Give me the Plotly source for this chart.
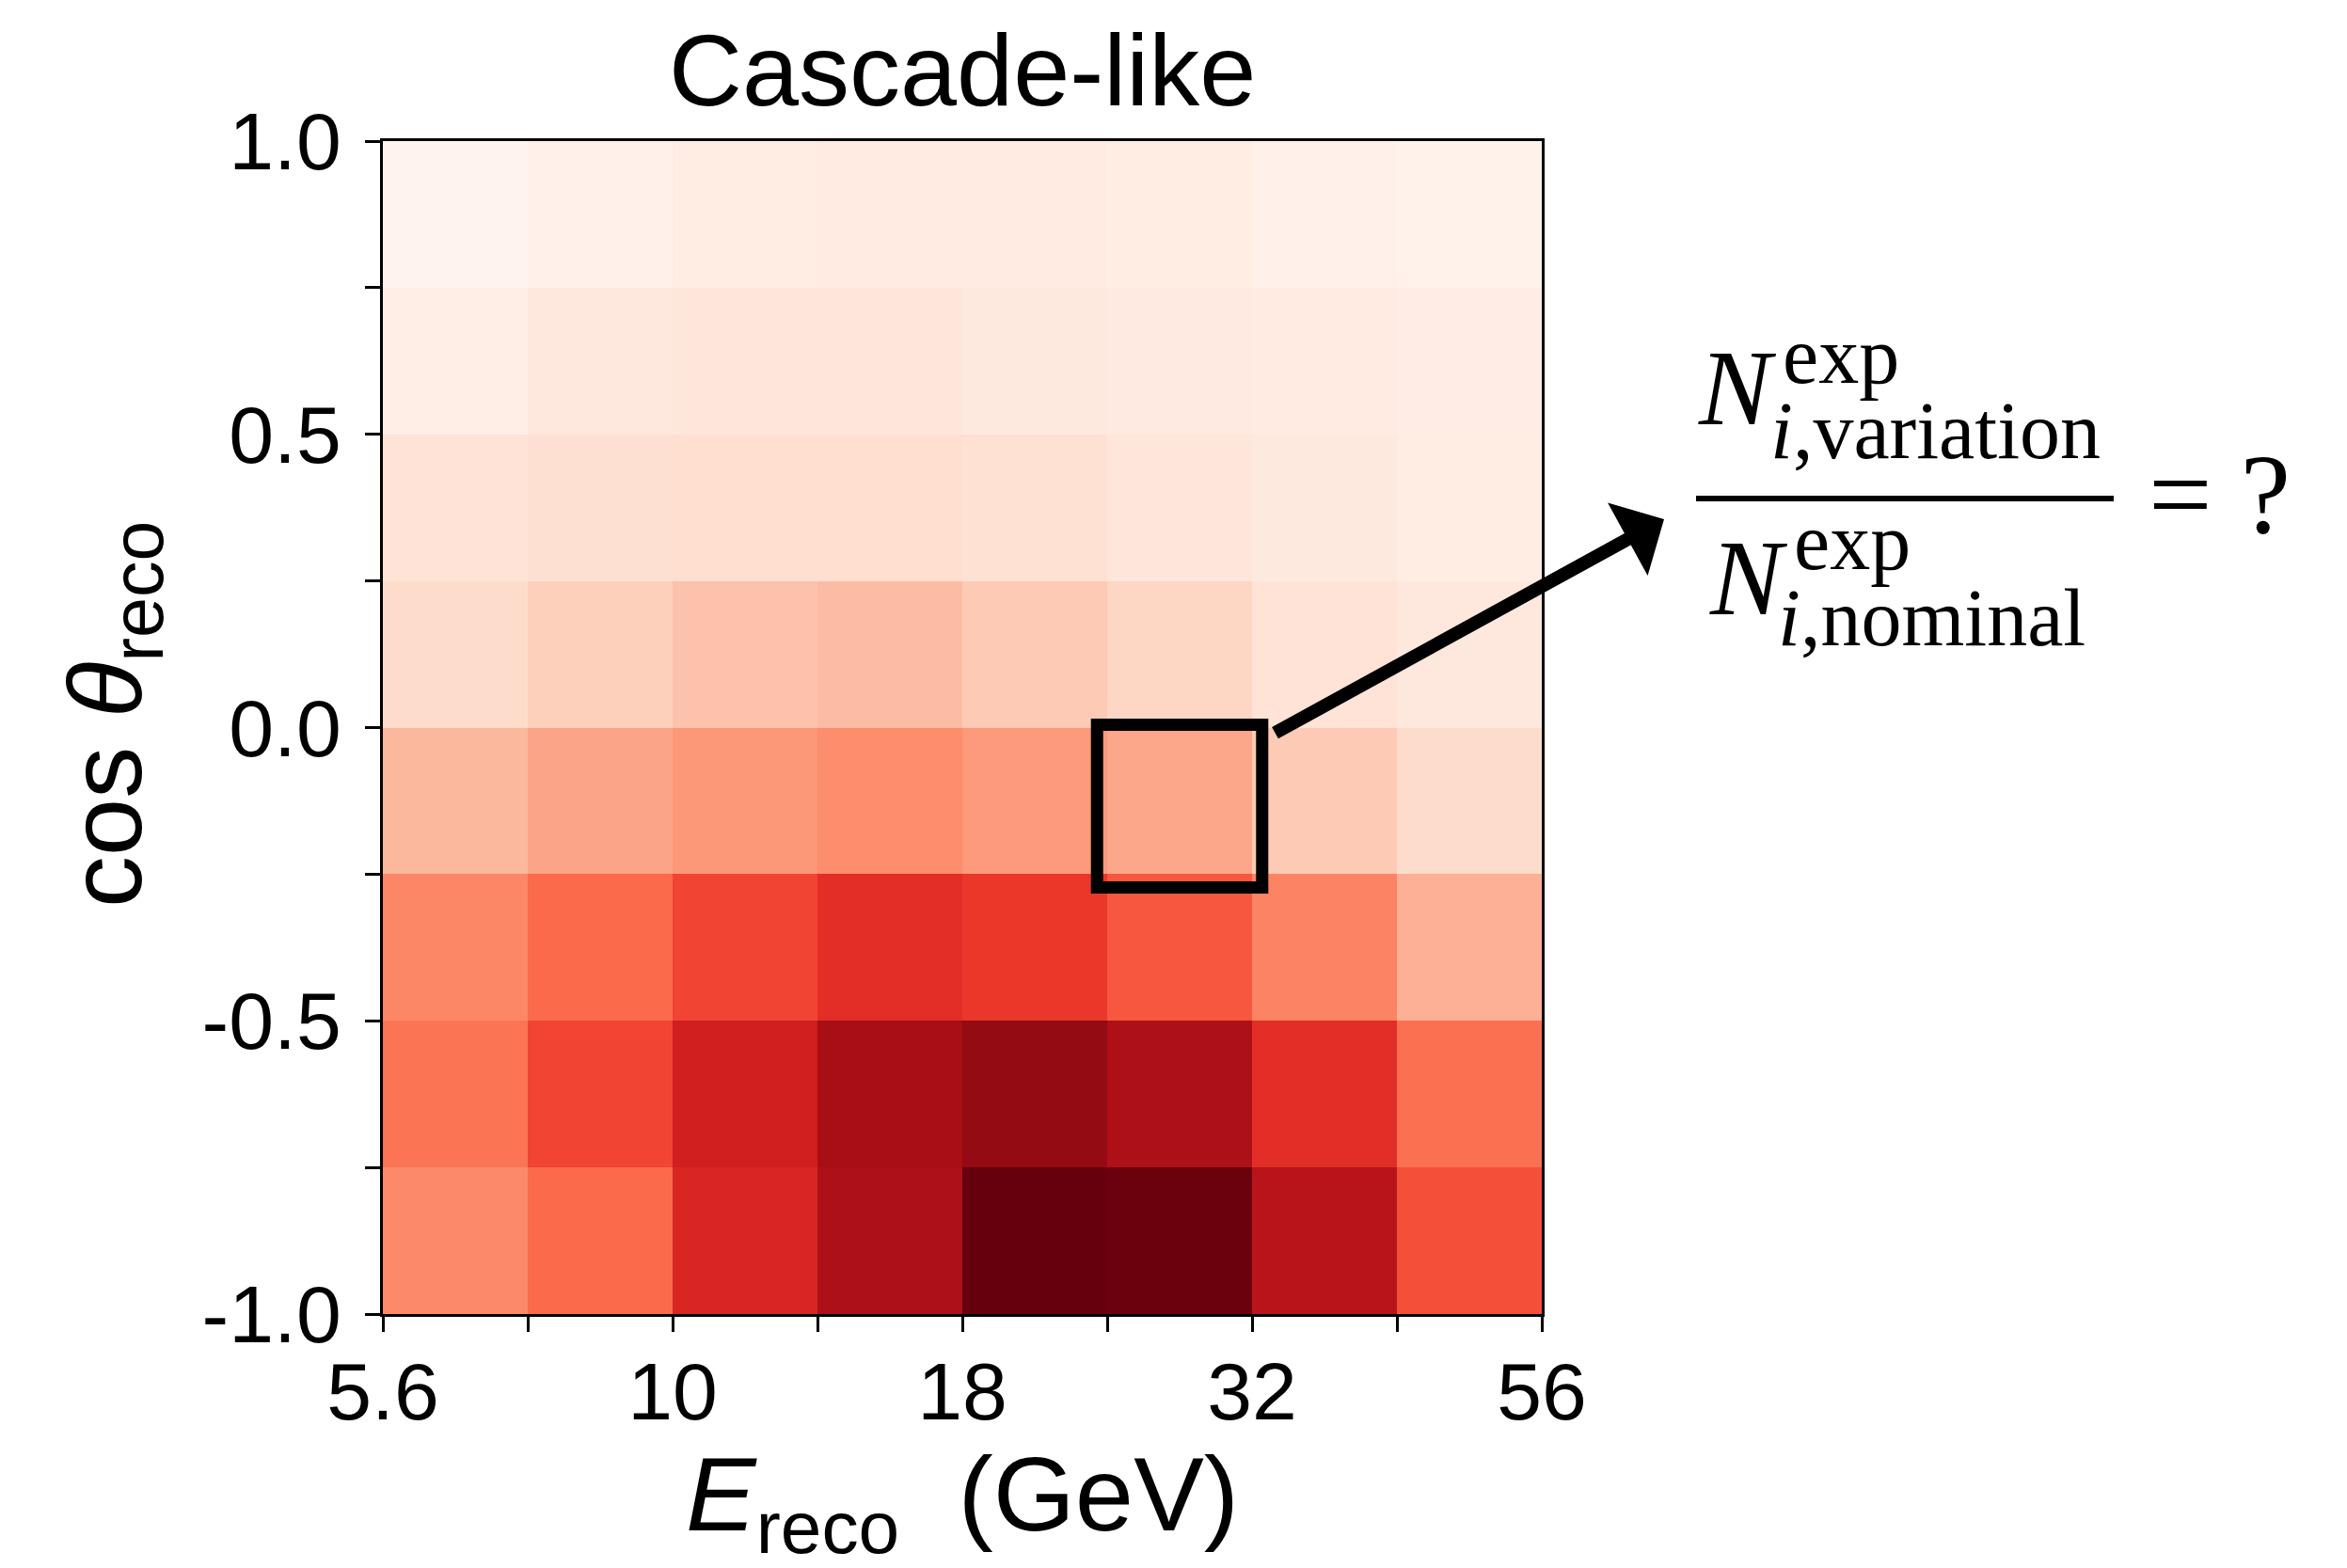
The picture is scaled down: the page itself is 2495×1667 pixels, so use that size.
import numpy as np
import plotly.graph_objects as go

# ---------------- data ----------------
E_MIN, E_MAX, N_E = 5.6, 56.0, 8
E_EDGES = np.logspace(np.log10(E_MIN), np.log10(E_MAX), N_E + 1)
COS_EDGES = np.linspace(-1.0, 1.0, 9)

X_TICK_TEXT = ["5.6", "", "10", "", "18", "", "32", "", "56"]
Y_TICK_TEXT = ["-1.0", "", "-0.5", "", "0.0", "", "0.5", "", "1.0"]

# relative expected counts (normalised 0..1), rows from cos=-1 (bottom) to cos=1 (top)
Z_ROW0 = [0.40, 0.50, 0.70, 0.85, 1.00, 0.99, 0.81, 0.57]
Z_ROW1 = [0.47, 0.60, 0.73, 0.87, 0.91, 0.85, 0.67, 0.48]
Z_ROW2 = [0.41, 0.50, 0.60, 0.67, 0.64, 0.55, 0.42, 0.28]
Z_ROW3 = [0.26, 0.32, 0.36, 0.39, 0.35, 0.31, 0.20, 0.14]
Z_ROW4 = [0.14, 0.18, 0.225, 0.245, 0.20, 0.16, 0.11, 0.08]
Z_ROW5 = [0.11, 0.125, 0.13, 0.13, 0.12, 0.09, 0.07, 0.05]
Z_ROW6 = [0.04, 0.08, 0.09, 0.09, 0.07, 0.065, 0.06, 0.045]
Z_ROW7 = [0.01, 0.03, 0.05, 0.06, 0.06, 0.05, 0.03, 0.02]
Z = [Z_ROW0, Z_ROW1, Z_ROW2, Z_ROW3, Z_ROW4, Z_ROW5, Z_ROW6, Z_ROW7]

HIGHLIGHT_COL, HIGHLIGHT_ROW = 5, 3

REDS = ['rgb(255,245,240)', 'rgb(254,224,210)', 'rgb(252,187,161)', 'rgb(252,146,114)',
        'rgb(251,106,74)', 'rgb(239,59,44)', 'rgb(203,24,29)', 'rgb(165,15,21)', 'rgb(103,0,13)']
COLORSCALE = [[i / (len(REDS) - 1), c] for i, c in enumerate(REDS)]

# ---------------- layout geometry ----------------
W, H = 2495, 1667
L, R, T, B = 407, 1639, 150, 1397  # plot area in pixels

def px(X):
    return (X - L) / (R - L)

def py(Y):
    return (B - Y) / (B - T)

SANS = "Liberation Sans, Arial, sans-serif"
SERIF = "Liberation Serif, Times New Roman, serif"

fig = go.Figure()
fig.add_trace(go.Heatmap(
    x=E_EDGES, y=COS_EDGES, z=Z,
    colorscale=COLORSCALE, zmin=0, zmax=1, showscale=False,
    hoverinfo="skip",
))

fig.update_layout(
    width=W, height=H,
    margin=dict(l=L, r=W - R, t=T, b=H - B, pad=0),
    paper_bgcolor="white", plot_bgcolor="white",
    showlegend=False,
    font=dict(family=SANS, color="black"),
)

axis_common = dict(
    showline=True, linecolor="black", linewidth=3, mirror=True,
    ticks="outside", ticklen=16, tickwidth=3, tickcolor="black",
    showgrid=False, zeroline=False,
    tickfont=dict(family=SANS, size=86, color="black"),
)
fig.update_xaxes(type="log", range=[np.log10(E_MIN), np.log10(E_MAX)],
                 tickmode="array", tickvals=E_EDGES, ticktext=X_TICK_TEXT,
                 ticklabelstandoff=-10, **axis_common)
fig.update_yaxes(range=[-1, 1], tickmode="array", tickvals=COS_EDGES, ticktext=Y_TICK_TEXT,
                 ticklabelstandoff=8, **axis_common)

# highlight box around one bin
pad_l, pad_r, pad_b, pad_t = 0.07, 0.07, 0.09, 0.02
fig.add_shape(type="rect", xref="paper", yref="paper",
              x0=(HIGHLIGHT_COL - pad_l) / N_E, x1=(HIGHLIGHT_COL + 1 + pad_r) / N_E,
              y0=(HIGHLIGHT_ROW - pad_b) / 8, y1=(HIGHLIGHT_ROW + 1 + pad_t) / 8,
              line=dict(color="black", width=13), fillcolor="rgba(0,0,0,0)")

# arrow
TIP_X, TIP_Y = 1769, 552
fig.add_annotation(xref="paper", yref="paper", x=px(TIP_X), y=py(TIP_Y),
                   ax=1354 - TIP_X, ay=780 - TIP_Y, axref="pixel", ayref="pixel",
                   showarrow=True, arrowhead=1, arrowsize=1.05, arrowwidth=14,
                   arrowcolor="black", standoff=0, startstandoff=0, text="")

# titles
fig.add_annotation(xref="paper", yref="paper", x=0.5, y=py(75), text="Cascade-like",
                   showarrow=False, xanchor="center", yanchor="middle",
                   font=dict(family=SANS, size=108, color="black"))
fig.add_annotation(xref="paper", yref="paper", x=0.5, y=py(1597),
                   text="<i>E</i><sub>reco</sub>  (GeV)",
                   showarrow=False, xanchor="center", yanchor="middle",
                   font=dict(family=SANS, size=112, color="black"))
fig.add_annotation(xref="paper", yref="paper", x=px(119), y=py(760),
                   text="cos <i>θ</i><sub>reco</sub>", textangle=-90,
                   showarrow=False, xanchor="center", yanchor="middle",
                   font=dict(family=SANS, size=110, color="black"))

# formula
def txt(X, Y, s, size, xanchor="left"):
    fig.add_annotation(xref="paper", yref="paper", x=px(X), y=py(Y), text=s,
                       showarrow=False, xanchor=xanchor, yanchor="middle",
                       font=dict(family=SERIF, size=size, color="black"))

txt(1803, 412, "<i>N</i>", 115)
txt(1893, 378, "exp", 86)
txt(1880, 458, "<i>i</i>,variation", 86)
txt(1815, 614, "<i>N</i>", 115)
txt(1905, 576, "exp", 86)
txt(1888, 657, "<i>i</i>,nominal", 86)
txt(2282, 525, "= ?", 120)
fig.add_shape(type="line", xref="paper", yref="paper",
              x0=px(1803), x1=px(2247), y0=py(530), y1=py(530),
              line=dict(color="black", width=6))

fig.write_html("out.html")
